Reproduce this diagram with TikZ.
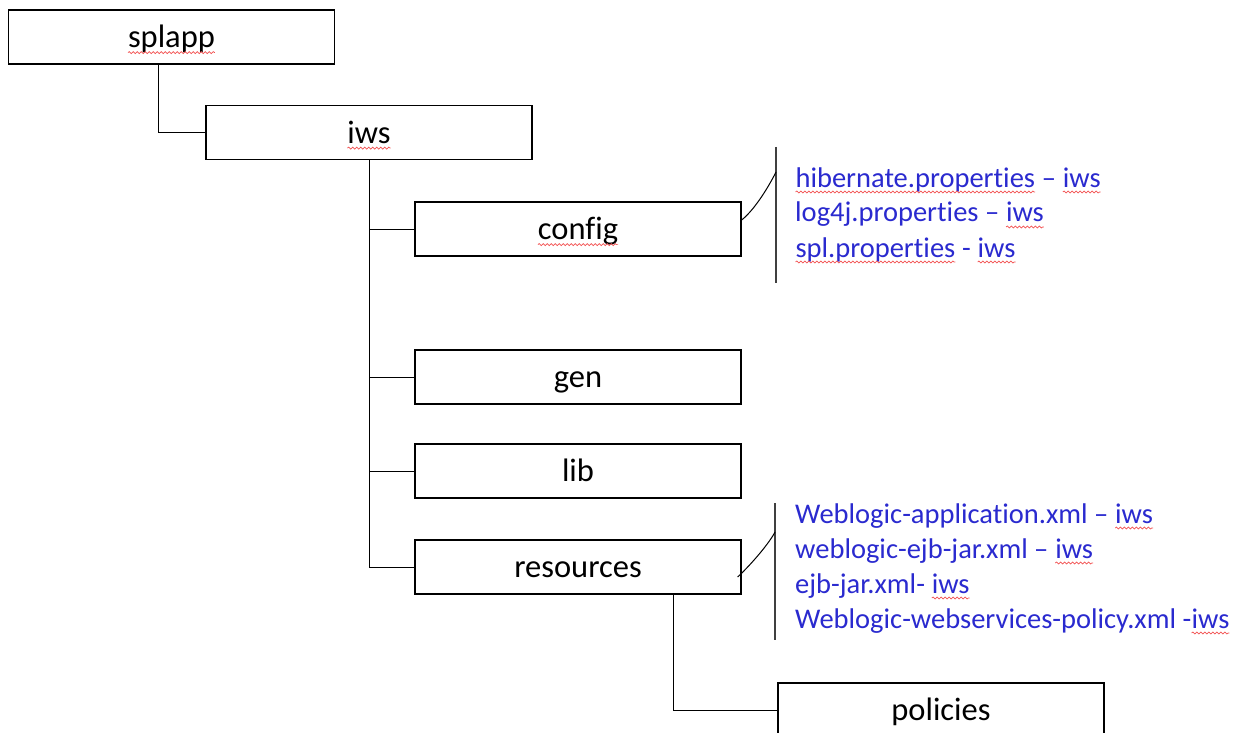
\documentclass[tikz,border=0pt]{standalone}
\usepackage{fontspec}
\setmainfont[Ligatures={NoCommon,NoRequired,NoContextual},Contextuals=NoAlternate]{Carlito}
\usepackage{tikz}
\usetikzlibrary{positioning,decorations.pathmorphing}

\definecolor{filetext}{HTML}{2A2ACF}
\definecolor{spell}{HTML}{F25050}

% red wavy underline
\newcommand\sq[1]{\tikz[baseline=(w.base)]{\node[draw=none,inner sep=0pt,outer sep=0pt,
    minimum width=0pt,minimum height=0pt,text height=,text depth=] (w) {#1};
  \draw[spell,line width=0.7pt,decorate,decoration={snake,amplitude=1pt,segment length=4pt}]
    ([yshift=-5pt]w.base west) -- ([yshift=-5pt]w.base east);}}

\begin{document}
\begin{tikzpicture}[x=1pt,y=-1pt,
  dir/.style={draw,line width=1.3pt,minimum width=326pt,minimum height=54pt,inner sep=0pt,
    font=\fontsize{32.5}{39}\selectfont,text height=24.4pt,text depth=3.2pt},
  files/.style={anchor=base west,inner sep=0pt,text=filetext,font=\fontsize{28.5}{35}\selectfont},
  branch/.style={line width=1pt},
  bar/.style={line width=1.6pt,black!75}]

  \useasboundingbox (0,0) rectangle (1251,733);

  % ------------------- folders ----------------------
  \node[dir] (splapp)    at (171.5,37)  {\sq{splapp}\hspace{22pt}};
  \node[dir] (iws)       at (369,132.5) {\sq{iws}\hspace{50pt}};
  \node[dir] (config)    at (578,229)   {\sq{config}};
  \node[dir] (gen)       at (578,377)   {gen};
  \node[dir] (lib)       at (578,471)   {lib};
  \node[dir] (resources) at (578,567)   {resources};
  \node[dir] (policies)  at (941,710)   {policies};

  \draw[branch] ([xshift=-13.5pt]splapp.south) |- (iws.west);
  \foreach \d in {config,gen,lib,resources}
    \draw[branch] (iws.south) |- (\d.west);
  \draw[branch] ([xshift=95pt]resources.south) |- (policies.west);

  % ------------------- config files ----------------------
  \coordinate (cfgtop) at (776,147);
  \coordinate (cfgbot) at (776,283);
  \coordinate (cfgtip) at (776,172);
  \draw[bar] (cfgtop) -- (cfgbot);
  \draw[branch] ([yshift=9pt]config.east) .. controls +(15,-12) and +(-5,10) .. (cfgtip);

  \foreach \t [count=\i] in {{\sq{hibernate.properties} – \sq{iws}},
                             {log4j.properties – \sq{iws}},
                             {\sq{spl.properties}\ - \sq{iws}}}
    \node[files] (cfg\i) at (795,152+35*\i) {\t};

  % ------------------- resources files ----------------------
  \coordinate (restop) at (775,503);
  \coordinate (resbot) at (775,640);
  \coordinate (restip) at (775,532);
  \draw[bar] (restop) -- (resbot);
  \draw[branch] ([shift={(-4pt,-10pt)}]resources.east) .. controls +(15,-14) and +(-5,10) .. (restip);

  \foreach \t [count=\i] in {{Weblogic-application.xml – \sq{iws}},
                             {weblogic-ejb-jar.xml – \sq{iws}},
                             {ejb-jar.xml- \sq{iws}},
                             {Weblogic-webservices-policy.xml -\sq{iws}}}
    \node[files] (res\i) at (795,488+35*\i) {\t};
\end{tikzpicture}
\end{document}
